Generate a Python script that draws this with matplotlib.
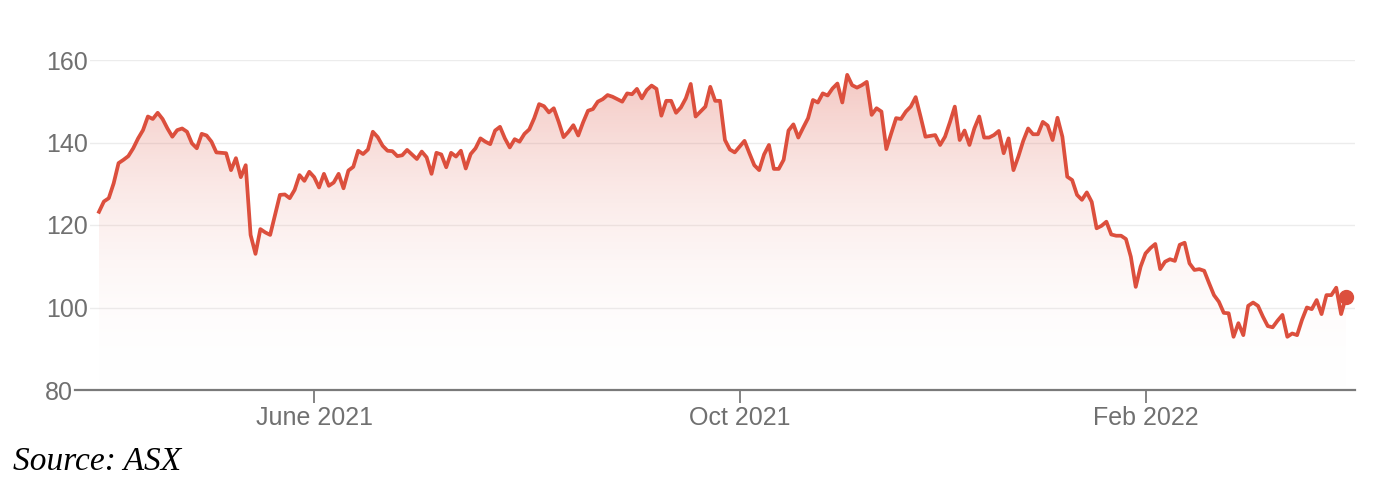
import numpy as np
import pandas as pd
import matplotlib
matplotlib.use("Agg")
import matplotlib.pyplot as plt
from matplotlib.colors import LinearSegmentedColormap
from matplotlib.transforms import ScaledTranslation

# ==========================================
# Data: daily closing prices, ASX trading days
# ==========================================
start_date = "2021-03-29"
asx_holidays = ["2021-04-02", "2021-04-05", "2021-06-14", "2021-12-27",
                "2021-12-28", "2022-01-03", "2022-01-26"]

prices = [
    123.2, 125.7, 126.5, 130.1, 135.0, 135.8, 136.7, 138.6, 141.0, 143.0,
    146.3, 145.7, 147.2, 145.7, 143.4, 141.4, 143.0, 143.4, 142.6, 139.8,
    138.6, 142.1, 141.7, 140.2, 137.6, 137.5, 137.4, 133.3, 136.2, 131.6,
    134.5, 117.6, 113.0, 119.0, 118.2, 117.6, 122.5, 127.3, 127.4, 126.5,
    128.5, 132.1, 130.7, 132.9, 131.6, 129.1, 132.4, 129.5, 130.3, 132.4,
    128.9, 133.2, 134.1, 138.0, 137.2, 138.3, 142.6, 141.3, 139.2, 138.0,
    137.9, 136.7, 136.9, 138.2, 137.1, 136.0, 137.8, 136.4, 132.4, 137.5,
    137.1, 134.0, 137.5, 136.6, 138.0, 133.7, 137.2, 138.6, 141.0, 140.2,
    139.6, 142.9, 143.8, 141.0, 138.8, 140.8, 140.2, 142.1, 143.2, 145.9,
    149.3, 148.8, 147.3, 148.3, 145.0, 141.3, 142.6, 144.2, 141.7, 144.9,
    147.7, 148.1, 149.9, 150.5, 151.5, 151.1, 150.5, 149.9, 151.9, 151.7,
    153.0, 150.7, 152.7, 153.8, 153.0, 146.5, 150.1, 150.1, 147.2, 148.5,
    150.7, 154.2, 146.3, 147.5, 148.7, 153.5, 150.1, 150.1, 140.6, 138.3,
    137.6, 139.0, 140.4, 137.4, 134.5, 133.3, 137.1, 139.4, 133.6, 133.6,
    135.8, 142.9, 144.4, 141.2, 143.6, 145.9, 150.3, 149.7, 151.9, 151.4,
    153.1, 154.3, 149.7, 156.4, 153.9, 153.3, 153.9, 154.7, 146.7, 148.3,
    147.5, 138.4, 142.2, 145.9, 145.7, 147.5, 148.7, 151.0, 146.3, 141.4,
    141.6, 141.8, 139.4, 141.4, 144.9, 148.7, 140.6, 142.9, 139.4, 143.4,
    146.3, 141.2, 141.2, 141.8, 142.8, 137.4, 141.0, 133.3, 136.6, 140.4,
    143.4, 142.0, 142.0, 145.0, 144.1, 140.6, 146.0, 141.4, 131.7, 130.9,
    127.3, 126.1, 127.9, 125.6, 119.2, 119.8, 120.8, 117.7, 117.4, 117.4,
    116.6, 112.3, 105.0, 109.9, 113.1, 114.4, 115.4, 109.3, 111.1, 111.7,
    111.3, 115.2, 115.7, 110.7, 109.1, 109.3, 108.9, 105.9, 103.0, 101.4,
    98.7, 98.6, 92.9, 96.2, 93.3, 100.4, 101.2, 100.4, 97.8, 95.5,
    95.2, 96.8, 98.2, 92.9, 93.7, 93.3, 97.0, 100.0, 99.6, 101.8,
    98.4, 103.0, 103.0, 104.8, 98.4, 102.6,
]

dates = pd.bdate_range(start=start_date, periods=len(prices), freq="C",
                       holidays=asx_holidays)

tick_dates = ["2021-06-01", "2021-10-01", "2022-02-01"]
tick_labels = ["June 2021", "Oct 2021", "Feb 2022"]
y_ticks = [80, 100, 120, 140, 160]

LINE = "#dc4f3d"
GREY = "#707070"

# ==========================================
# Figure
# ==========================================
plt.rcParams["font.family"] = ["Liberation Sans", "DejaVu Sans"]

fig = plt.figure(figsize=(13.9, 4.92), dpi=100)
ax = fig.add_axes([90 / 1390, 1 - 390 / 492, (1355 - 90) / 1390, 330 / 492])

x = np.arange(len(prices))
y = np.array(prices)

# gradient under the line
cmap = LinearSegmentedColormap.from_list(
    "fade", [(1, 1, 1, 0), (0.86, 0.31, 0.24, 0.34)])
grad = np.linspace(0, 1, 256).reshape(-1, 1)
im = ax.imshow(grad, extent=[x[0], x[-1], 80, 160], origin="lower",
               aspect="auto", cmap=cmap, zorder=1)
poly = ax.fill_between(x, y, 80, color="none", lw=0)
im.set_clip_path(poly.get_paths()[0], transform=ax.transData)

ax.plot(x, y, color=LINE, lw=2.7, zorder=3)
ax.plot(x[-1], y[-1], "o", color=LINE, ms=10, zorder=4)

ax.set_ylim(80, 160)
ax.set_xlim(-1.84, len(prices) - 1 + 1.84)

# grid + axes
for v in y_ticks[1:]:
    ax.axhline(v, color="#ececec", lw=1, zorder=0)
ax.plot([-15 / 1265, 1], [0, 0], transform=ax.transAxes, color="#7a7a7a",
        lw=1.6, clip_on=False, zorder=5)
for s in ax.spines.values():
    s.set_visible(False)

ax.set_yticks(y_ticks)
ax.set_yticklabels([str(v) for v in y_ticks])
ax.tick_params(axis="y", length=0, pad=1.5, labelsize=18, labelcolor=GREY)
lab80 = ax.get_yticklabels()[0]
lab80.set_transform(lab80.get_transform() +
                    ScaledTranslation(-0.15, 0, fig.dpi_scale_trans))

tick_pos = [int(np.searchsorted(dates, pd.Timestamp(d))) for d in tick_dates]
ax.set_xticks(tick_pos)
ax.set_xticklabels(tick_labels)
ax.tick_params(axis="x", length=9, width=1.3, color="#7a7a7a", pad=2.5,
               labelsize=18, labelcolor=GREY)

fig.text(13 / 1390, 1 - 470 / 492, "Source: ASX", family="Liberation Serif",
         style="italic", size=24, va="baseline", color="black")

fig.savefig("out.png", dpi=100, facecolor="white")
